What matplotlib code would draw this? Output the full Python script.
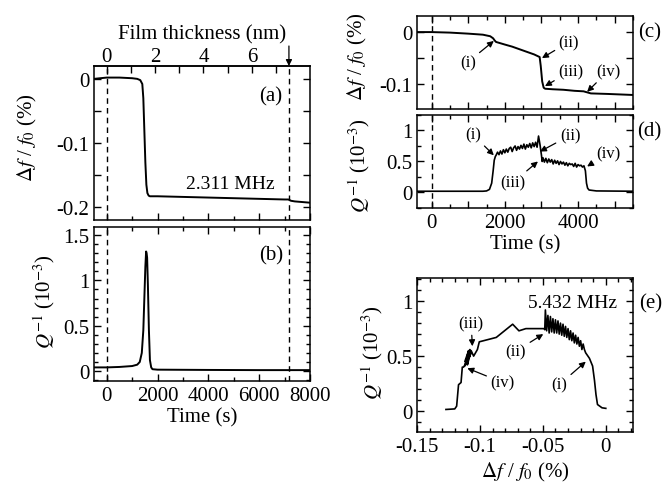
import matplotlib
matplotlib.use('Agg')
import matplotlib.pyplot as plt
from matplotlib.ticker import MultipleLocator, FixedLocator, FuncFormatter

plt.rcParams['font.family'] = ['Liberation Serif', 'DejaVu Serif']
plt.rcParams['mathtext.fontset'] = 'stix'
plt.rcParams['font.size'] = 15
plt.rcParams['axes.unicode_minus'] = False
plt.rcParams['axes.linewidth'] = 1.1

# ---- datos ----
# (a) 2.311 MHz, df/f0 (%) vs tiempo
t_a = [-500, 0, 500, 1000, 1200, 1320, 1400, 1440, 1480, 1520, 1560, 1600, 1650, 1700,
       2000, 3000, 4000, 5000, 6000, 7000, 7150, 7250, 7400, 8000]
df_a = [0.0, 0.002, 0.002, 0.001, 0.0, -0.002, -0.008, -0.03, -0.08, -0.13, -0.165, -0.178,
        -0.182, -0.183, -0.183, -0.184, -0.185, -0.186, -0.187, -0.188, -0.188, -0.190,
        -0.191, -0.193]
# (b) Q^-1 (1e-3) vs tiempo
t_b = [-500, 0, 500, 1000, 1200, 1300, 1380, 1440, 1480, 1520, 1550, 1570, 1590, 1620,
       1660, 1700, 1750, 1800, 2000, 4000, 6000, 8000]
q_b = [0.04, 0.04, 0.045, 0.055, 0.07, 0.10, 0.20, 0.45, 0.80, 1.15, 1.32, 1.30, 1.25,
       0.95, 0.45, 0.12, 0.04, 0.02, 0.015, 0.012, 0.01, 0.01]
t_gota = 7170           # linea discontinua / flecha
nm_por_s = 1 / 952.0    # espesor de pelicula
nm_ticks = [0, 2, 4, 6]
nm_minor = [1, 3, 5, 7]

# (c) 5.432 MHz, df/f0 (%) vs tiempo
t_c = [-400, 0, 500, 1000, 1400, 1600, 1680, 1720, 1760, 2000, 2200, 2400, 2600, 2800, 2950,
       2980, 3020, 3060, 3100, 3300, 3600, 3900, 4150, 4250, 4350, 4800, 5500]
df_c = [0.0, 0.0, -0.001, -0.003, -0.005, -0.008, -0.012, -0.016, -0.019, -0.024, -0.028,
        -0.033, -0.038, -0.043, -0.048, -0.065, -0.095, -0.107, -0.109, -0.110, -0.111,
        -0.113, -0.114, -0.116, -0.118, -0.119, -0.121]
# (d) Q^-1 (1e-3) vs tiempo
t_d = [-400, 1400, 1500, 1580, 1640, 1680, 1710, 1740,
       1760, 1800, 1840, 1880, 1920, 1960, 2000, 2040, 2080, 2120, 2160, 2200, 2240, 2280,
       2320, 2360, 2400, 2440, 2480, 2520, 2560, 2600, 2640, 2680, 2720, 2760, 2800, 2840,
       2880, 2920, 2960,
       3000, 3020,
       3040, 3080, 3120, 3160, 3200, 3240, 3280, 3320, 3360, 3400, 3440, 3480, 3520, 3560,
       3600, 3640, 3680, 3720, 3760, 3800, 3840, 3880, 3920, 3960, 4000, 4040, 4080, 4120,
       4160,
       4200, 4230, 4260, 4300, 4500, 5500]
q_d = [0.02, 0.02, 0.025, 0.05, 0.15, 0.35, 0.52, 0.58,
       0.60, 0.65, 0.61, 0.67, 0.62, 0.69, 0.64, 0.70, 0.65, 0.71, 0.73, 0.66, 0.72, 0.75,
       0.68, 0.74, 0.70, 0.76, 0.71, 0.78, 0.70, 0.77, 0.73, 0.79, 0.72, 0.80, 0.74, 0.81,
       0.73, 0.91, 0.77,
       0.60, 0.50,
       0.56, 0.49, 0.55, 0.48, 0.54, 0.49, 0.53, 0.46, 0.52, 0.47, 0.51, 0.45, 0.50, 0.46,
       0.49, 0.44, 0.48, 0.43, 0.47, 0.45, 0.46, 0.42, 0.47, 0.41, 0.45, 0.43, 0.44, 0.41,
       0.43,
       0.35, 0.15, 0.07, 0.04, 0.025, 0.02]
# (e) Q^-1 vs df/f0
df_e = [0.0, -0.003, -0.0066, -0.0078, -0.009, -0.0105, -0.013, -0.016,
        -0.017, -0.018, -0.019, -0.020, -0.021, -0.022, -0.023, -0.024, -0.025, -0.026,
        -0.027, -0.028, -0.029, -0.030, -0.031, -0.032, -0.033, -0.034, -0.035, -0.036,
        -0.037, -0.038, -0.039, -0.040, -0.041, -0.042, -0.043, -0.044, -0.045, -0.046,
        -0.047, -0.048, -0.0485,
        -0.049, -0.0635, -0.069, -0.074, -0.087, -0.1005, -0.102, -0.105,
        -0.107, -0.110, -0.108, -0.111, -0.107, -0.112, -0.109, -0.112, -0.108, -0.113,
        -0.114, -0.115, -0.117, -0.1185, -0.120, -0.127]
q_e = [0.025, 0.03, 0.06, 0.15, 0.28, 0.41, 0.48, 0.53,
       0.56, 0.61, 0.56, 0.64, 0.59, 0.67, 0.61, 0.69, 0.62, 0.71, 0.64, 0.73, 0.65, 0.75,
       0.67, 0.77, 0.68, 0.79, 0.69, 0.80, 0.70, 0.82, 0.71, 0.83, 0.71, 0.84, 0.72, 0.86,
       0.71, 0.87, 0.73, 0.92, 0.74,
       0.75, 0.75, 0.73, 0.79, 0.67, 0.63, 0.56, 0.50,
       0.55, 0.42, 0.56, 0.44, 0.53, 0.41, 0.55, 0.45, 0.50, 0.40,
       0.40, 0.26, 0.24, 0.045, 0.02, 0.015]

DF_LABEL = r'$\Delta f$ / $f_0$ (%)'
Q_LABEL = r'$Q^{-1}$ (10$^{-3}$)'


def fmt_cada(paso):
    """Etiqueta solo los multiplos de 'paso'."""
    def f(v, pos):
        if abs(v / paso - round(v / paso)) < 1e-6:
            return '%g' % (round(v / paso) * paso)
        return ''
    return FuncFormatter(f)


def ticks(ax, top=True):
    ax.tick_params(which='both', direction='in', right=True, top=top, width=1)
    ax.tick_params(which='major', length=5)
    ax.tick_params(which='minor', length=3)


def flecha(ax, txt, xy, xytext, size=12):
    ax.annotate(txt, xy=xy, xytext=xytext, ha='center', va='center', fontsize=size,
                arrowprops=dict(arrowstyle='-|>', color='k', lw=0.9, mutation_scale=9,
                                shrinkA=1, shrinkB=0))


fig = plt.figure(figsize=(6.64, 4.85), dpi=100)

# ---------- (a) ----------
ax_a = fig.add_axes([0.1416, 0.5443, 0.3253, 0.3175])
ax_a.plot(t_a, df_a, color='k', lw=1.4)
ax_a.axvline(0, color='k', ls='--', lw=1, dashes=(4, 3))
ax_a.axvline(t_gota, color='k', ls='--', lw=1, dashes=(4, 3))
ax_a.set_xlim(-500, 8000)
ax_a.set_ylim(-0.22, 0.02)
ax_a.xaxis.set_major_locator(MultipleLocator(2000))
ax_a.xaxis.set_minor_locator(MultipleLocator(1000))
ax_a.yaxis.set_major_locator(MultipleLocator(0.05))
ax_a.yaxis.set_major_formatter(fmt_cada(0.1))
ax_a.set_xticklabels([])
ticks(ax_a, top=False)
ax_a.set_ylabel(DF_LABEL)
ax_a.yaxis.set_label_coords(-0.255, 0.54)
ax_a.text(0.82, 0.805, '(a)', transform=ax_a.transAxes, ha='center', va='center', fontsize=15)
ax_a.text(0.63, 0.235, '2.311 MHz', transform=ax_a.transAxes, ha='center', va='center',
          fontsize=14)

sec = ax_a.secondary_xaxis('top', functions=(lambda t: t * nm_por_s, lambda d: d / nm_por_s))
sec.xaxis.set_major_locator(FixedLocator(nm_ticks))
sec.xaxis.set_minor_locator(FixedLocator(nm_minor))
sec.xaxis.set_major_formatter(FuncFormatter(lambda v, p: '%g' % v))
sec.tick_params(which='both', direction='in', width=1, pad=0)
sec.tick_params(which='major', length=5)
sec.tick_params(which='minor', length=5)
sec.set_xlabel('Film thickness (nm)', labelpad=6)
ax_a.annotate('', xy=(t_gota, 1.0), xycoords=('data', 'axes fraction'),
              xytext=(t_gota, 1.13), textcoords=('data', 'axes fraction'),
              arrowprops=dict(arrowstyle='-|>', color='k', lw=0.9, mutation_scale=9,
                              shrinkA=0, shrinkB=0))

# ---------- (b) ----------
ax_b = fig.add_axes([0.1416, 0.2124, 0.3253, 0.3175])
ax_b.plot(t_b, q_b, color='k', lw=1.4)
ax_b.axvline(0, color='k', ls='--', lw=1, dashes=(4, 3))
ax_b.axvline(t_gota, color='k', ls='--', lw=1, dashes=(4, 3))
ax_b.set_xlim(-500, 8000)
ax_b.set_ylim(-0.11, 1.59)
ax_b.xaxis.set_major_locator(MultipleLocator(2000))
ax_b.xaxis.set_minor_locator(MultipleLocator(1000))
ax_b.xaxis.set_major_formatter(FuncFormatter(lambda v, p: '%g' % v))
ax_b.yaxis.set_major_locator(MultipleLocator(0.5))
ax_b.yaxis.set_minor_locator(MultipleLocator(0.1))
ax_b.yaxis.set_major_formatter(FuncFormatter(lambda v, p: '%g' % v))
ticks(ax_b)
ax_b.set_xlabel('Time (s)', labelpad=2)
ax_b.set_ylabel(Q_LABEL)
ax_b.yaxis.set_label_coords(-0.17, 0.52)
ax_b.text(0.82, 0.82, '(b)', transform=ax_b.transAxes, ha='center', va='center', fontsize=15)

# ---------- (c) ----------
ax_c = fig.add_axes([0.628, 0.7732, 0.3253, 0.1918])
ax_c.plot(t_c, df_c, color='k', lw=1.4)
ax_c.axvline(0, color='k', ls='--', lw=1, dashes=(4, 3))
ax_c.set_xlim(-400, 5500)
ax_c.set_ylim(-0.148, 0.031)
ax_c.xaxis.set_major_locator(MultipleLocator(1000))
ax_c.xaxis.set_minor_locator(MultipleLocator(500))
ax_c.set_xticklabels([])
ax_c.yaxis.set_major_locator(MultipleLocator(0.05))
ax_c.yaxis.set_major_formatter(fmt_cada(0.1))
ticks(ax_c)
ax_c.set_ylabel(DF_LABEL)
ax_c.yaxis.set_label_coords(-0.22, 0.57)
ax_c.text(1.075, 0.83, '(c)', transform=ax_c.transAxes, ha='center', va='center', fontsize=15)
flecha(ax_c, '(i)', (1699, -0.017), (986, -0.058))
flecha(ax_c, '(ii)', (3014, -0.050), (3750, -0.019))
flecha(ax_c, '(iii)', (3096, -0.104), (3800, -0.075))
flecha(ax_c, '(iv)', (4247, -0.115), (4822, -0.075))

# ---------- (d) ----------
ax_d = fig.add_axes([0.628, 0.5691, 0.3253, 0.1918])
ax_d.plot(t_d, q_d, color='k', lw=1.2)
ax_d.axvline(0, color='k', ls='--', lw=1, dashes=(4, 3))
ax_d.set_xlim(-400, 5500)
ax_d.set_ylim(-0.25, 1.25)
ax_d.xaxis.set_major_locator(MultipleLocator(1000))
ax_d.xaxis.set_minor_locator(MultipleLocator(500))
ax_d.xaxis.set_major_formatter(fmt_cada(2000))
ax_d.yaxis.set_major_locator(MultipleLocator(0.5))
ax_d.yaxis.set_minor_locator(MultipleLocator(0.25))
ax_d.yaxis.set_major_formatter(FuncFormatter(lambda v, p: '%g' % v))
ticks(ax_d)
ax_d.set_xlabel('Time (s)', labelpad=2)
ax_d.set_ylabel(Q_LABEL)
ax_d.yaxis.set_label_coords(-0.21, 0.47)
ax_d.text(1.075, 0.83, '(d)', transform=ax_d.transAxes, ha='center', va='center', fontsize=15)
flecha(ax_d, '(i)', (1699, 0.60), (1123, 0.935))
flecha(ax_d, '(ii)', (2959, 0.66), (3780, 0.92))
flecha(ax_d, '(iii)', (2904, 0.50), (2219, 0.16))
flecha(ax_d, '(iv)', (4247, 0.42), (4822, 0.63))

# ---------- (e) ----------
ax_e = fig.add_axes([0.628, 0.1072, 0.3253, 0.3175])
ax_e.plot(df_e, q_e, color='k', lw=1.2)
ax_e.set_xlim(-0.15, 0.0216)
ax_e.set_ylim(-0.19, 1.21)
ax_e.xaxis.set_major_locator(MultipleLocator(0.05))
ax_e.xaxis.set_minor_locator(MultipleLocator(0.01))
ax_e.xaxis.set_major_formatter(FuncFormatter(lambda v, p: '%g' % round(v, 3)))
ax_e.yaxis.set_major_locator(MultipleLocator(0.5))
ax_e.yaxis.set_minor_locator(MultipleLocator(0.1))
ax_e.yaxis.set_major_formatter(FuncFormatter(lambda v, p: '%g' % v))
ticks(ax_e)
ax_e.set_xlabel(DF_LABEL, labelpad=3)
ax_e.set_ylabel(Q_LABEL)
ax_e.yaxis.set_label_coords(-0.15, 0.52)
ax_e.text(1.08, 0.84, '(e)', transform=ax_e.transAxes, ha='center', va='center', fontsize=15)
ax_e.text(0.72, 0.84, '5.432 MHz', transform=ax_e.transAxes, ha='center', va='center',
          fontsize=14)
flecha(ax_e, '(iii)', (-0.106, 0.59), (-0.107, 0.80))
flecha(ax_e, '(iv)', (-0.110, 0.39), (-0.082, 0.26))
flecha(ax_e, '(ii)', (-0.0497, 0.70), (-0.0714, 0.545))
flecha(ax_e, '(i)', (-0.0159, 0.45), (-0.037, 0.24))

fig.savefig('out.png', dpi=100)
